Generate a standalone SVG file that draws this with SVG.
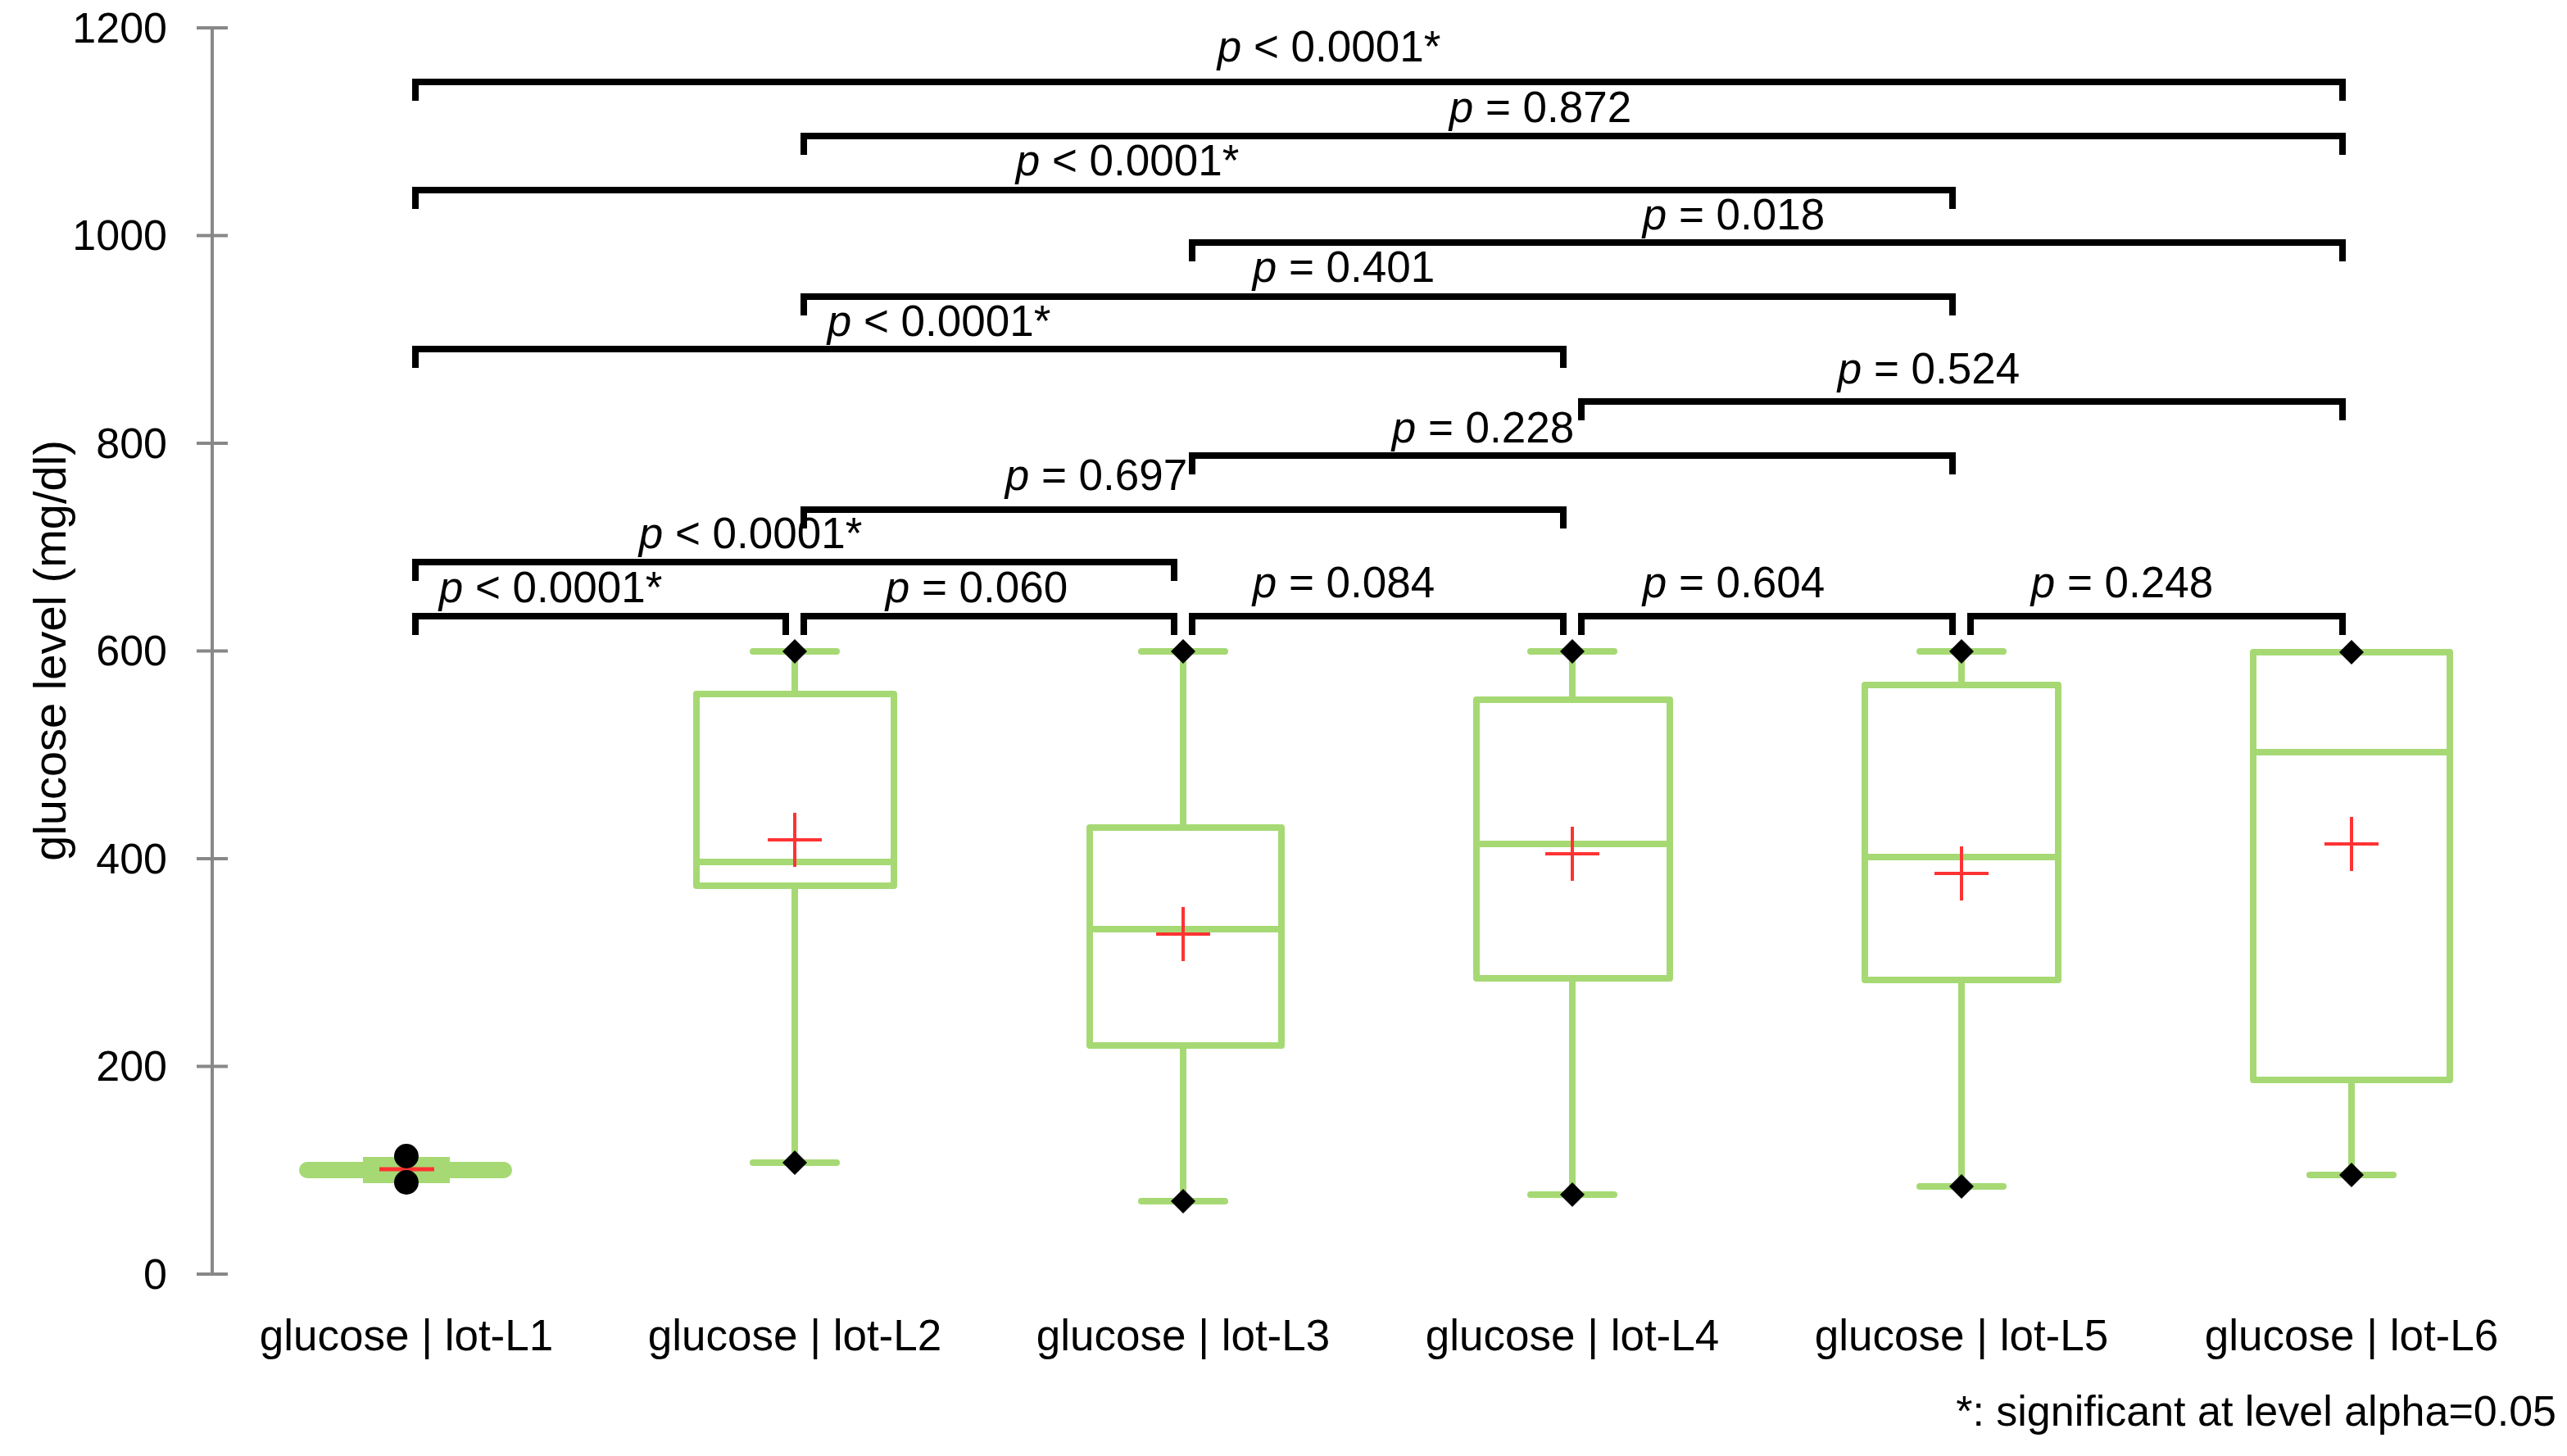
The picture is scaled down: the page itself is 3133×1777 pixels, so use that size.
<svg xmlns="http://www.w3.org/2000/svg" width="3133" height="1777" viewBox="0 0 3133 1777">
<style>
text{font-family:"Liberation Sans",Arial,sans-serif;fill:#000}
.t{font-size:53px;text-anchor:middle}
.n{font-size:52px;text-anchor:end}
.ax{stroke:#888;stroke-width:4;fill:none}
.br{stroke:#000;stroke-width:8;fill:none;stroke-linecap:butt}
.bx{stroke:#a6d974;stroke-width:8;fill:none;stroke-linejoin:round}
.cap{stroke:#a6d974;stroke-width:8;stroke-linecap:round}
.mn{stroke:#f33;stroke-width:4;fill:none}
.dm{fill:#000}
</style>
<g id="axis">
<line class="ax" x1="259" y1="34" x2="259" y2="1555"/>
<path class="ax" d="M240 34H278M240 287.5H278M240 541H278M240 794.5H278M240 1048H278M240 1301.5H278M240 1555H278"/>
<text class="n" x="204" y="52">1200</text>
<text class="n" x="204" y="305">1000</text>
<text class="n" x="204" y="559">800</text>
<text class="n" x="204" y="812">600</text>
<text class="n" x="204" y="1066">400</text>
<text class="n" x="204" y="1319">200</text>
<text class="n" x="204" y="1573">0</text>
<text transform="translate(80,794) rotate(-90)" style="font-size:56px;text-anchor:middle">glucose level (mg/dl)</text>
</g>
<g id="box-L1">
<line class="cap" x1="375" y1="1428" x2="615" y2="1428" style="stroke-width:20"/>
<rect x="447" y="1416" width="98" height="24" style="fill:#a6d974;stroke:#a6d974;stroke-width:8"/>
<line class="mn" x1="463" y1="1427" x2="530" y2="1427" style="stroke-width:5"/>
<circle cx="496" cy="1411" r="15"/><circle cx="496" cy="1443" r="15"/>
<text class="t" x="496" y="1648">glucose | lot-L1</text>
</g>
<g id="box-L2">
<line class="cap" x1="919" y1="795" x2="1021" y2="795"/>
<line class="cap" x1="919" y1="1419" x2="1021" y2="1419"/>
<line class="bx" x1="970" y1="795" x2="970" y2="847"/>
<line class="bx" x1="970" y1="1081" x2="970" y2="1419"/>
<rect class="bx" x="850" y="847" width="241" height="234"/>
<line class="bx" x1="850" y1="1052" x2="1091" y2="1052"/>
<path class="mn" d="M937 1025H1003M970 992V1058"/>
<path class="dm" d="M970 780L985 795L970 810L955 795Z"/>
<path class="dm" d="M970 1404L985 1419L970 1434L955 1419Z"/>
<text class="t" x="970" y="1648">glucose | lot-L2</text>
</g>
<g id="box-L3">
<line class="cap" x1="1393" y1="795" x2="1495" y2="795"/>
<line class="cap" x1="1393" y1="1466" x2="1495" y2="1466"/>
<line class="bx" x1="1444" y1="795" x2="1444" y2="1010"/>
<line class="bx" x1="1444" y1="1276" x2="1444" y2="1466"/>
<rect class="bx" x="1330" y="1010" width="234" height="266"/>
<line class="bx" x1="1330" y1="1134" x2="1564" y2="1134"/>
<path class="mn" d="M1411 1140H1477M1444 1107V1173"/>
<path class="dm" d="M1444 780L1459 795L1444 810L1429 795Z"/>
<path class="dm" d="M1444 1451L1459 1466L1444 1481L1429 1466Z"/>
<text class="t" x="1444" y="1648">glucose | lot-L3</text>
</g>
<g id="box-L4">
<line class="cap" x1="1868" y1="795" x2="1970" y2="795"/>
<line class="cap" x1="1868" y1="1458" x2="1970" y2="1458"/>
<line class="bx" x1="1919" y1="795" x2="1919" y2="854"/>
<line class="bx" x1="1919" y1="1194" x2="1919" y2="1458"/>
<rect class="bx" x="1802" y="854" width="236" height="340"/>
<line class="bx" x1="1802" y1="1030" x2="2038" y2="1030"/>
<path class="mn" d="M1886 1042H1952M1919 1009V1075"/>
<path class="dm" d="M1919 780L1934 795L1919 810L1904 795Z"/>
<path class="dm" d="M1919 1443L1934 1458L1919 1473L1904 1458Z"/>
<text class="t" x="1919" y="1648">glucose | lot-L4</text>
</g>
<g id="box-L5">
<line class="cap" x1="2343" y1="795" x2="2445" y2="795"/>
<line class="cap" x1="2343" y1="1448" x2="2445" y2="1448"/>
<line class="bx" x1="2394" y1="795" x2="2394" y2="836"/>
<line class="bx" x1="2394" y1="1196" x2="2394" y2="1448"/>
<rect class="bx" x="2276" y="836" width="236" height="360"/>
<line class="bx" x1="2276" y1="1046" x2="2512" y2="1046"/>
<path class="mn" d="M2361 1066H2427M2394 1033V1099"/>
<path class="dm" d="M2394 780L2409 795L2394 810L2379 795Z"/>
<path class="dm" d="M2394 1433L2409 1448L2394 1463L2379 1448Z"/>
<text class="t" x="2394" y="1648">glucose | lot-L5</text>
</g>
<g id="box-L6">
<line class="cap" x1="2819" y1="1434" x2="2921" y2="1434"/>
<line class="bx" x1="2870" y1="1318" x2="2870" y2="1434"/>
<rect class="bx" x="2750" y="796" width="240" height="522"/>
<line class="bx" x1="2750" y1="918" x2="2990" y2="918"/>
<path class="mn" d="M2837 1030H2903M2870 997V1063"/>
<path class="dm" d="M2870 781L2885 796L2870 811L2855 796Z"/>
<path class="dm" d="M2870 1419L2885 1434L2870 1449L2855 1434Z"/>
<text class="t" x="2870" y="1648">glucose | lot-L6</text>
</g>
<g id="connectors">
<path class="br" d="M507 123V100H2859V123"/>
<path class="br" d="M981 189V166H2859V189"/>
<path class="br" d="M507 255V232H2383V255"/>
<path class="br" d="M1455 319V296H2859V319"/>
<path class="br" d="M981 385V362H2383V385"/>
<path class="br" d="M507 449V426H1908V449"/>
<path class="br" d="M1930 513V490H2859V513"/>
<path class="br" d="M1455 579V556H2383V579"/>
<path class="br" d="M981 645V622H1908V645"/>
<path class="br" d="M507 709V686H1433V709"/>
<path class="br" d="M507 775V752H959V775"/>
<path class="br" d="M981 775V752H1433V775"/>
<path class="br" d="M1455 775V752H1908V775"/>
<path class="br" d="M1930 775V752H2383V775"/>
<path class="br" d="M2405 775V752H2859V775"/>
</g>
<g id="labels">
<text class="t" x="1622" y="75"><tspan font-style="italic">p</tspan> &lt; 0.0001*</text>
<text class="t" x="1880" y="149"><tspan font-style="italic">p</tspan> = 0.872</text>
<text class="t" x="1376" y="214"><tspan font-style="italic">p</tspan> &lt; 0.0001*</text>
<text class="t" x="2116" y="280"><tspan font-style="italic">p</tspan> = 0.018</text>
<text class="t" x="1640" y="344"><tspan font-style="italic">p</tspan> = 0.401</text>
<text class="t" x="1146" y="410"><tspan font-style="italic">p</tspan> &lt; 0.0001*</text>
<text class="t" x="2354" y="468"><tspan font-style="italic">p</tspan> = 0.524</text>
<text class="t" x="1810" y="540"><tspan font-style="italic">p</tspan> = 0.228</text>
<text class="t" x="1338" y="598"><tspan font-style="italic">p</tspan> = 0.697</text>
<text class="t" x="916" y="669"><tspan font-style="italic">p</tspan> &lt; 0.0001*</text>
<text class="t" x="672" y="735"><tspan font-style="italic">p</tspan> &lt; 0.0001*</text>
<text class="t" x="1192" y="735"><tspan font-style="italic">p</tspan> = 0.060</text>
<text class="t" x="1640" y="729"><tspan font-style="italic">p</tspan> = 0.084</text>
<text class="t" x="2116" y="729"><tspan font-style="italic">p</tspan> = 0.604</text>
<text class="t" x="2590" y="729"><tspan font-style="italic">p</tspan> = 0.248</text>
<text x="3120" y="1740" style="font-size:52px;text-anchor:end">*: significant at level alpha=0.05</text>
</g>
</svg>
